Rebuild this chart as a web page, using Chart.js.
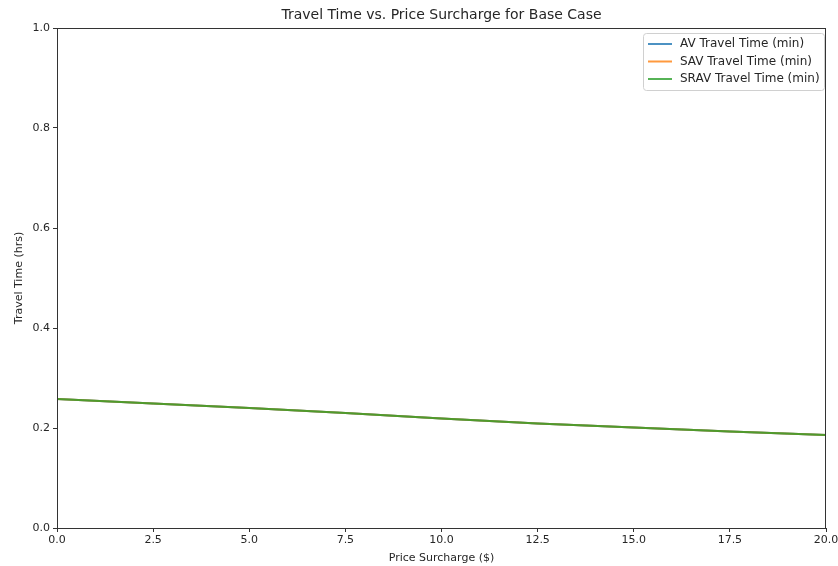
<!DOCTYPE html>
<html>
<head>
<meta charset="utf-8">
<script src="https://cdn.jsdelivr.net/npm/chart.js@4"></script>
<style>
  html, body { margin: 0; padding: 0; background: #fff; }
  #wrap { width: 838px; height: 566px; }
</style>
</head>
<body>
<div id="wrap"><canvas id="chart" width="838" height="566"></canvas></div>
<script>
// price surcharge ($) and travel time (hrs)
const surcharge = [0, 2.5, 5, 7.5, 10, 12.5, 15, 17.5, 20]
const avTime   = [0.258, 0.249, 0.240, 0.230, 0.219, 0.209, 0.201, 0.193, 0.186]
const savTime  = [0.258, 0.249, 0.240, 0.230, 0.219, 0.209, 0.201, 0.193, 0.186]
const sravTime = [0.258, 0.249, 0.240, 0.230, 0.219, 0.209, 0.201, 0.193, 0.186]
const seriesNames = ['AV Travel Time (min)', 'SAV Travel Time (min)', 'SRAV Travel Time (min)']
const seriesColors = ['rgba(31,119,180,0.8)', 'rgba(255,127,14,0.8)', 'rgba(44,160,44,0.8)']

const font = 'DejaVu Sans'
const textColor = '#262626'

function points(ys){
    return surcharge.map((x, i) => ({x: x, y: ys[i]}))
}

// frame, title and legend in matplotlib style
const extras = {
    id: 'extras',
    afterDraw(chart){
        const ctx = chart.ctx
        const a = chart.chartArea
        ctx.save()
        ctx.strokeStyle = '#333'
        ctx.lineWidth = 1
        ctx.strokeRect(a.left + 0.5, a.top + 0.5, a.right - a.left - 1, a.bottom - a.top)

        ctx.fillStyle = textColor
        ctx.font = '14px "' + font + '"'
        ctx.textAlign = 'center'
        ctx.textBaseline = 'middle'
        ctx.fillText('Travel Time vs. Price Surcharge for Base Case', (a.left + a.right) / 2, 15)

        // legend box
        const bx = a.right - 183, by = a.top + 5, bw = 181, bh = 57
        ctx.fillStyle = 'rgba(255,255,255,0.8)'
        ctx.strokeStyle = '#d0d0d0'
        ctx.beginPath()
        ctx.roundRect(bx + 0.5, by + 0.5, bw, bh, 3)
        ctx.fill()
        ctx.stroke()
        ctx.font = '12px "' + font + '"'
        ctx.textAlign = 'left'
        chart.data.datasets.forEach((ds, i) => {
            const ly = by + 11 + i * 17.5
            ctx.strokeStyle = ds.borderColor
            ctx.lineWidth = 2
            ctx.beginPath()
            ctx.moveTo(bx + 5, ly)
            ctx.lineTo(bx + 29, ly)
            ctx.stroke()
            ctx.fillStyle = textColor
            ctx.fillText(ds.label, bx + 37, ly)
        })
        ctx.restore()
    }
}

// last series is drawn on top, like the reference
const datasets = [avTime, savTime, sravTime].map((ys, i) => ({
    label: seriesNames[i],
    data: points(ys),
    borderColor: seriesColors[i],
    borderWidth: 2,
    pointRadius: 0,
    tension: 0,
    order: 2 - i
}))

new Chart(document.getElementById('chart'), {
    type: 'line',
    data: { datasets: datasets },
    plugins: [extras],
    options: {
        responsive: false,
        animation: false,
        layout: { padding: { top: 28, right: 12, left: 0, bottom: 0 } },
        plugins: { legend: { display: false }, tooltip: { enabled: false } },
        scales: {
            x: {
                type: 'linear',
                min: 0,
                max: 20,
                // let the last label run off the edge as in the reference
                afterFit: (s) => { s.height = 38; s.paddingRight = 0; s.paddingLeft = 0 },
                ticks: {
                    stepSize: 2.5,
                    padding: 2,
                    maxRotation: 0,
                    color: textColor,
                    font: { family: font, size: 11 },
                    callback: (v) => v.toFixed(1)
                },
                grid: { drawOnChartArea: false, tickLength: 4, color: '#333' },
                border: { display: false },
                title: {
                    display: true,
                    text: 'Price Surcharge ($)',
                    color: textColor,
                    font: { family: font, size: 11 },
                    padding: { bottom: 1 }
                }
            },
            y: {
                min: 0,
                max: 1,
                afterFit: (s) => { s.width = 57 },
                ticks: {
                    stepSize: 0.2,
                    padding: 3,
                    color: textColor,
                    font: { family: font, size: 11 },
                    callback: (v) => v.toFixed(1)
                },
                grid: { drawOnChartArea: false, tickLength: 4, color: '#333' },
                border: { display: false },
                title: {
                    display: true,
                    text: 'Travel Time (hrs)',
                    color: textColor,
                    font: { family: font, size: 11 },
                    padding: { top: 13 }
                }
            }
        }
    }
})
</script>
</body>
</html>
